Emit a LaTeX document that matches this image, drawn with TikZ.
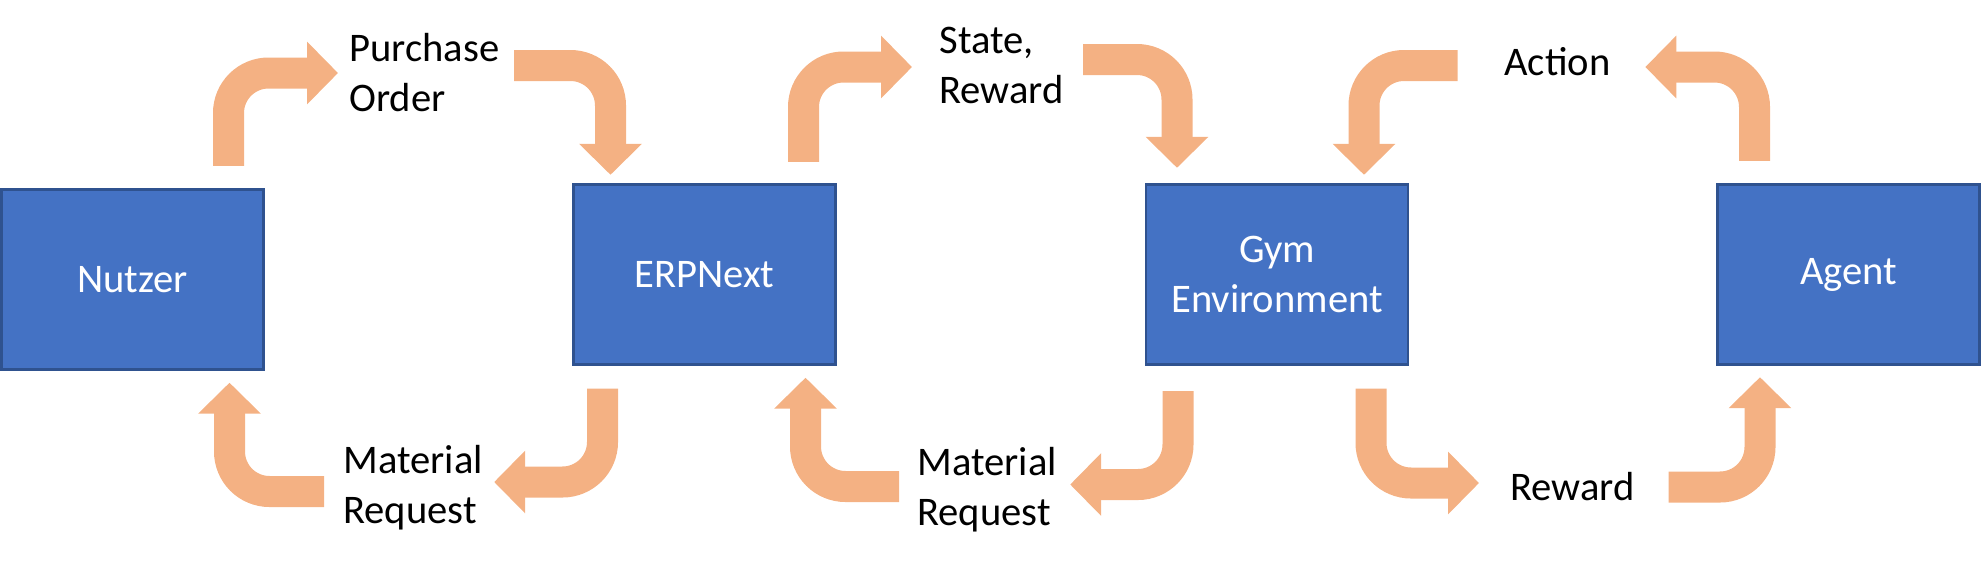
\documentclass[tikz,border=0pt]{standalone}
\usepackage{fontspec}
\setmainfont{Carlito}
\usetikzlibrary{calc,arrows.meta}

\definecolor{boxblue}{HTML}{4472C4}
\definecolor{boxline}{HTML}{2F528F}
\definecolor{flowcol}{HTML}{F4B183}

\tikzset{
  box/.style={draw=boxline, line width=1.2pt, fill=boxblue, text=white,
    minimum width=131pt, minimum height=90pt, inner sep=0pt, align=center,
    font=\fontsize{20.3}{25}\selectfont},
  lbl/.style={inner sep=0pt, align=left, font=\fontsize{20.3}{25}\selectfont},
  flow/.style={draw=flowcol, line width=15.5pt, rounded corners=20pt,
    -{Triangle[length=15.5pt,width=30.5pt]}},
}

\begin{document}
\begin{tikzpicture}[x=0.5pt,y=-0.5pt]
  \useasboundingbox (0,0) rectangle (1981,564);

  \node [box] (nutzer) at (132.5,279.5) {Nutzer};
  \node [box] (erp) at (704.5,274.5) {ERPNext};
  \node [box] (gym) at (1277,274.5) {Gym\\Environment};
  \node [box] (agent) at (1848.5,274.5) {Agent};

  %%

  \node [lbl, anchor=north west] (po) at (349,33) {Purchase\\Order};
  \node [lbl, anchor=north west] (mr1) at (343,445) {Material\\Request};
  \node [lbl, anchor=north west] (sr) at (939,26.5) {State,\\Reward};
  \node [lbl, anchor=north west] (mr2) at (917,446.5) {Material\\Request};
  \node [lbl, anchor=base west] (act) at (1504,75.5) {Action};
  \node [lbl, anchor=base west] (rew) at (1510,500) {Reward};

  %%

  \draw [flow] ($(nutzer.north)+(96,-22.5)$) |- ($(po.north west)+(-11,40)$);
  \draw [flow] ($(po.north east)+(14.5,32.5)$) -| ($(erp.north)+(-94,-8.5)$);
  \draw [flow] ($(erp.south)+(-102,23)$) |- ($(mr1.north east)+(11,37)$);
  \draw [flow] ($(mr1.north west)+(-19,46.5)$) -| ($(nutzer.south)+(97,12)$);

  %%

  \draw [flow] ($(erp.north)+(99,-21.5)$) |- ($(sr.north west)+(-27,40.5)$);
  \draw [flow] ($(sr.north east)+(19,33)$) -| ($(gym.north)+(-100,-15.5)$);
  \draw [flow] ($(gym.south)+(-99,25.5)$) |- ($(mr2.north east)+(13,38)$);
  \draw [flow] ($(mr2.north west)+(-18,40)$) -| ($(erp.south)+(101,12)$);

  %%

  \draw [flow] ($(agent.north)+(-94,-22.5)$) |- ($(act.base east)+(34.5,-8.5)$);
  \draw [flow] ($(act.base west)+(-46.5,-10)$) -| ($(gym.north)+(87,-8.5)$);
  \draw [flow] ($(gym.south)+(94,23)$) |- ($(rew.base west)+(-31,-17)$);
  \draw [flow] ($(rew.base east)+(33.5,-13)$) -| ($(agent.south)+(-88.5,11.5)$);

\end{tikzpicture}
\end{document}
